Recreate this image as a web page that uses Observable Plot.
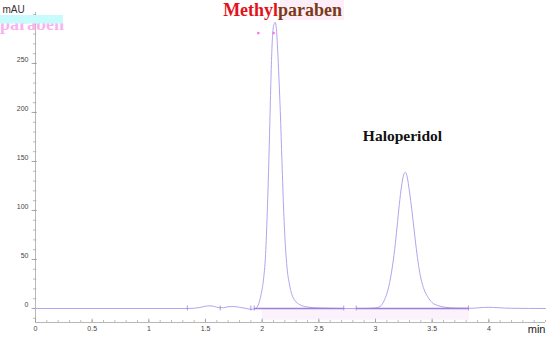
<!DOCTYPE html>
<html>
<head>
<meta charset="utf-8">
<script src="https://cdn.jsdelivr.net/npm/d3@7"></script>
<script src="https://cdn.jsdelivr.net/npm/@observablehq/plot@0.6"></script>
<style>
  html, body { margin: 0; padding: 0; background: #fff; }
  #chart { width: 550px; height: 337px; }
</style>
</head>
<body>
<div id="chart"></div>
<script>
// Chromatogram (retention time in min, absorbance in mAU)
const time = [0, 1.30, 1.34, 1.40, 1.45, 1.50, 1.54, 1.58, 1.62, 1.66, 1.70, 1.75, 1.80, 1.85, 1.90, 1.93, 1.95, 1.97, 1.99, 2.01, 2.03, 2.045, 2.06, 2.07, 2.08, 2.09, 2.10, 2.115, 2.125, 2.135, 2.145, 2.16, 2.175, 2.19, 2.205, 2.22, 2.24, 2.26, 2.29, 2.33, 2.40, 2.50, 2.60, 2.70, 2.90, 3.00, 3.04, 3.08, 3.11, 3.14, 3.17, 3.19, 3.21, 3.23, 3.25, 3.263, 3.28, 3.30, 3.32, 3.34, 3.36, 3.38, 3.40, 3.43, 3.46, 3.50, 3.55, 3.62, 3.70, 3.85, 3.92, 4.00, 4.08, 4.20, 4.50];
const signal = [0, 0, 0, 0.3, 1, 2.3, 2.7, 2, 0.8, 0.8, 1.8, 2.0, 1.2, 0.2, -0.8, -0.5, 0.8, 5, 14, 28, 55, 98, 155, 200, 244, 275, 288, 292, 286, 268, 243, 201, 149, 99, 64, 41, 25, 15, 8, 4, 1.5, 0.5, 0.2, 0, 0, 0.5, 2, 9, 19, 36, 61, 83, 106, 125, 137, 139, 134, 119, 101, 81, 61, 44, 31, 19, 12, 6, 3, 1.2, 0.4, 0.2, 0.8, 1.2, 0.8, 0.2, 0];

// Integration baselines
const intStart = [1.93, 2.83];
const intEnd = [2.72, 3.82];
const markerTimes = [1.34, 1.63, 1.90, 1.93, 2.72, 2.83, 3.82];

// Peak labels
const peakNames = ["Methylparaben", "Haloperidol"];
const peakTimes = [2.115, 3.263];

// Small peak-apex markers
const dotTimes = [1.966, 2.101];
const dotValues = [281, 281];

// Axis ticks
const xTickLabels = [0, 0.5, 1, 1.5, 2, 2.5, 3, 3.5, 4];
const yTickLabels = [0, 50, 100, 150, 200, 250];
const xMinorTicks = d3.range(0, 4.5001, 0.1).map(d => +d.toFixed(1));
const yMinorTicks = d3.range(-10, 301, 10);

const xDomain = [0, 4.5];
const yDomain = [-14.3, 302];

const chrom = time.map((t, i) => ({t, v: signal[i]}));
const ints = intStart.map((s, i) => ({s, e: intEnd[i]}));
const dots = dotTimes.map((t, i) => ({t, v: dotValues[i]}));

const chart = Plot.plot({
  width: 550,
  height: 337,
  marginLeft: 35,
  marginRight: 5,
  marginTop: 12,
  marginBottom: 15,
  style: {background: "#fff", fontFamily: "Liberation Sans, Arial, sans-serif"},
  x: {domain: xDomain},
  y: {domain: yDomain},
  marks: [
    // faint highlight band under the integrated region
    Plot.rect([{x1: 2.0, x2: 3.83}], {x1: "x1", x2: "x2", y1: -12, y2: 0, fill: "#fbf2fb"}),
    // axis lines
    Plot.ruleX([0], {y1: yDomain[0], y2: yDomain[1], stroke: "#b8b8b8", strokeWidth: 1}),
    Plot.ruleY([yDomain[0]], {x1: 0, x2: 4.5, stroke: "#b8b8b8", strokeWidth: 1}),
    // x ticks (pointing up)
    Plot.ruleX(xMinorTicks, {y1: yDomain[0], y2: yDomain[0] + 2, stroke: "#aaa", strokeWidth: 0.8}),
    Plot.ruleX(xTickLabels, {y1: yDomain[0], y2: yDomain[0] + 3.5, stroke: "#999", strokeWidth: 0.8}),
    // y ticks
    Plot.ruleY(yMinorTicks, {x1: -0.018, x2: 0.012, stroke: "#aaa", strokeWidth: 0.8}),
    Plot.ruleY(yTickLabels, {x1: -0.03, x2: 0.015, stroke: "#999", strokeWidth: 0.8}),
    Plot.axisX({ticks: xTickLabels, tickSize: 0, tickPadding: 4, tickFormat: d => String(d), fontSize: 7, fill: "#444", label: null}),
    Plot.axisY({ticks: yTickLabels, tickSize: 0, tickPadding: 7, dy: -4, tickFormat: d => String(d), fontSize: 7, fill: "#444", label: null}),
    // chromatogram
    Plot.line(chrom, {x: "t", y: "v", stroke: "#b4a4ec", strokeWidth: 1, curve: "monotone-x"}),
    // integration baselines
    Plot.link(ints, {x1: "s", x2: "e", y1: 0, y2: 0, stroke: "#9a80d8", strokeWidth: 1.6}),
    Plot.ruleX(markerTimes, {y1: -2.5, y2: 2.5, stroke: "#9a80d8", strokeWidth: 0.8}),
    Plot.dot(dots, {x: "t", y: "v", r: 1.3, fill: "#f27be6", stroke: null}),
    // axis titles
    Plot.text(["mAU"], {frameAnchor: "top-left", dx: -33, dy: -7, textAnchor: "start", fontSize: 10, fill: "#333"}),
    Plot.text(["min"], {frameAnchor: "bottom-right", dx: 0, dy: 10, textAnchor: "end", fontSize: 11, fill: "#222"}),
    // Haloperidol label
    Plot.text([peakNames[1]], {x: () => peakTimes[1] - 0.025, y: () => 176, text: d => d, textAnchor: "middle", fontSize: 15.5, fontWeight: "bold", fontFamily: "Liberation Serif, Times New Roman, serif", fill: "#111"})
  ]
});

document.getElementById("chart").appendChild(chart);

// Two-colour "Methylparaben" label and top-left artifact
const svg = d3.select(chart);
const xs = chart.scale("x");
const mx = xs.apply(peakTimes[0] - 0.455);
const name = peakNames[0];
const split = name.indexOf("paraben");

// pink highlight behind "paraben"
svg.insert("rect", ":first-child").attr("x", 280).attr("y", 0).attr("width", 64).attr("height", 20).attr("fill", "#fdeef8");

const t = svg.append("text")
  .attr("x", mx).attr("y", 16)
  .attr("text-anchor", "start")
  .attr("font-family", "Liberation Serif, Times New Roman, serif")
  .attr("font-weight", "bold").attr("font-size", 18);
t.append("tspan").attr("fill", "#e3121b").text(name.slice(0, split));
t.append("tspan").attr("fill", "#7b3a17").text(name.slice(split));

// artifact in the top-left corner
svg.append("text").attr("x", 0).attr("y", 30)
  .attr("text-anchor", "start")
  .attr("font-family", "Liberation Serif, Times New Roman, serif")
  .attr("font-weight", "bold").attr("font-size", 18).attr("fill", "#f7b3f0")
  .text(name.slice(split));
svg.append("rect").attr("x", 0).attr("y", 15).attr("width", 63).attr("height", 8.5).attr("fill", "#c8fcfc");
</script>
</body>
</html>
